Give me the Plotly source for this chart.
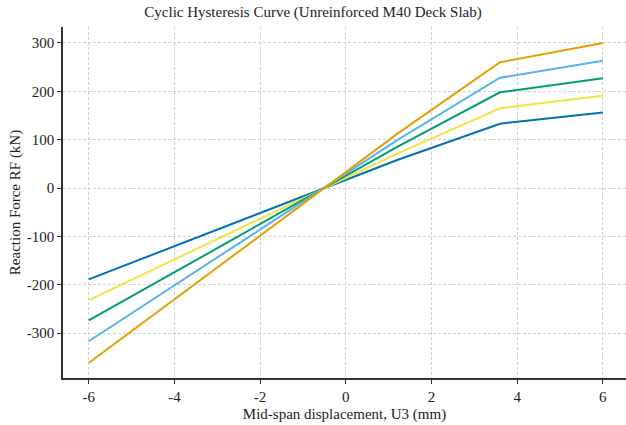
import plotly.graph_objects as go

displacement = [-6, 1.2, 3.6, 6]
series_names = ["Cycle 1", "Cycle 2", "Cycle 3", "Cycle 4", "Cycle 5"]
force_blue = [-189, 58, 133, 156]
force_yellow = [-232, 71, 165, 191]
force_green = [-274, 85, 198, 227]
force_lightblue = [-317, 99, 228, 263]
force_orange = [-362, 112, 260, 300]
colors = ["#0072B2", "#F0E442", "#009E73", "#56B4E9", "#E69F00"]
all_series = [force_blue, force_yellow, force_green, force_lightblue, force_orange]

x_ticks = [-6, -4, -2, 0, 2, 4, 6]
y_ticks = [-300, -200, -100, 0, 100, 200, 300]

fig = go.Figure()
for name, ys, c in zip(series_names, all_series, colors):
    fig.add_trace(go.Scatter(x=displacement, y=ys, mode="lines", name=name,
                             line=dict(color=c, width=2)))

font = "Liberation Serif, Times New Roman, serif"
fig.update_layout(
    width=626, height=425,
    margin=dict(l=63, r=0, t=27, b=47),
    paper_bgcolor="white", plot_bgcolor="white",
    showlegend=False,
    font=dict(family=font, size=15, color="#222"),
    title=dict(text="Cyclic Hysteresis Curve (Unreinforced M40 Deck Slab)",
               x=0.5, xanchor="center", y=0.972, yanchor="middle",
               font=dict(family=font, size=15, color="#222")),
)
fig.update_xaxes(
    range=[-6.6, 6.54], tickvals=x_ticks, ticktext=[str(t) for t in x_ticks],
    showline=True, linecolor="#333", linewidth=1.5, mirror=False,
    ticks="outside", ticklen=4, tickcolor="#333",
    showgrid=True, gridcolor="#d0d0d0", griddash="3px,2px", gridwidth=1,
    zeroline=False,
    title=dict(text="Mid-span displacement, U3 (mm)", standoff=5,
               font=dict(family=font, size=15)),
)
fig.update_yaxes(
    range=[-393, 333], tickvals=y_ticks, ticktext=[str(t) for t in y_ticks],
    showline=True, linecolor="#333", linewidth=1.5, mirror=False,
    ticks="outside", ticklen=4, tickcolor="#333",
    showgrid=True, gridcolor="#d0d0d0", griddash="3px,2px", gridwidth=1,
    zeroline=False,
    title=dict(text="Reaction Force RF (kN)", standoff=3,
               font=dict(family=font, size=15)),
)
fig.write_html("out.html")
